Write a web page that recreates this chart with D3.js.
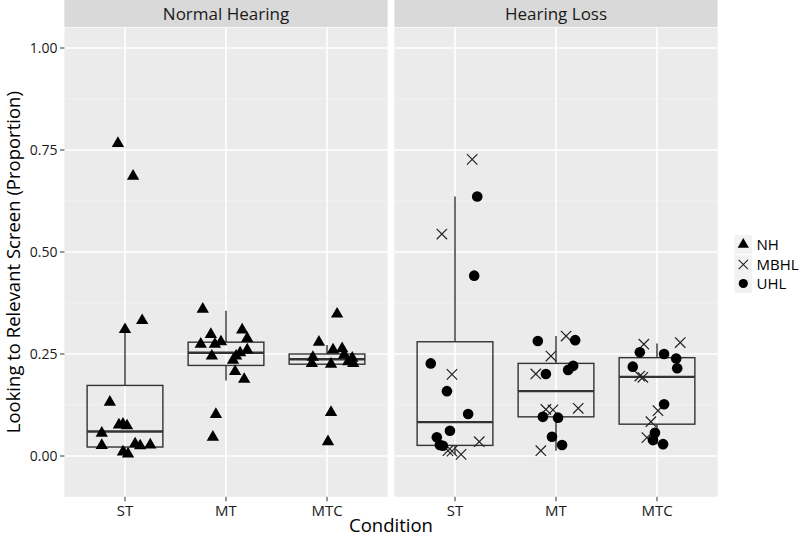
<!DOCTYPE html>
<html><head><meta charset="utf-8">
<script src="https://cdn.jsdelivr.net/npm/d3@7"></script>
<style>body{margin:0;background:#fff}svg{display:block}text{font-family:"Open Sans","Noto Sans",sans-serif}</style>
</head><body>
<svg id="chart" width="800" height="538"></svg>
<script>
// ---------- data ----------
const categories = ["ST", "MT", "MTC"];
const panels = ["Normal Hearing", "Hearing Loss"];
const yTicks = [0, 0.25, 0.5, 0.75, 1.0];
const yTickLabels = ["0.00", "0.25", "0.50", "0.75", "1.00"];
const yMinor = [0.125, 0.375, 0.625, 0.875];
const legendLabels = ["NH", "MBHL", "UHL"];

// points: [value, horizontal jitter (in category units)]
const nhST = [[0.766,-0.07],[0.686,0.08],[0.332,0.17],[0.31,0.0],[0.132,-0.15],[0.076,-0.06],[0.078,-0.02],[0.074,0.02],[0.056,-0.23],[0.026,-0.23],[0.01,-0.02],[0.005,0.03],[0.03,0.10],[0.025,0.15],[0.027,0.25]];
const nhMT = [[0.36,-0.23],[0.298,-0.15],[0.274,-0.25],[0.274,-0.11],[0.28,-0.05],[0.245,-0.14],[0.309,0.16],[0.288,0.21],[0.26,0.21],[0.253,0.14],[0.235,0.07],[0.207,0.09],[0.188,0.18],[0.102,-0.10],[0.046,-0.13],[0.245,0.10]];
const nhMTC = [[0.348,0.10],[0.279,-0.08],[0.26,0.06],[0.263,0.15],[0.242,-0.14],[0.227,-0.15],[0.225,0.04],[0.248,0.17],[0.231,0.21],[0.24,0.25],[0.227,0.26],[0.107,0.04],[0.035,0.01]];
const mbhlST = [[0.727,0.17],[0.544,-0.13],[0.2,-0.03],[0.035,0.24],[0.013,-0.07],[0.012,-0.03],[0.004,0.06]];
const uhlST = [[0.636,0.22],[0.442,0.19],[0.227,-0.24],[0.159,-0.08],[0.103,0.13],[0.062,-0.05],[0.046,-0.18],[0.027,-0.15],[0.025,-0.12]];
const mbhlMT = [[0.294,0.10],[0.245,-0.05],[0.201,-0.20],[0.114,-0.10],[0.113,-0.03],[0.117,0.22],[0.013,-0.15]];
const uhlMT = [[0.282,-0.18],[0.284,0.19],[0.221,0.17],[0.211,0.12],[0.201,-0.10],[0.096,-0.13],[0.094,0.02],[0.047,-0.04],[0.027,0.06]];
const mbhlMTC = [[0.274,-0.13],[0.278,0.23],[0.196,-0.17],[0.193,-0.14],[0.111,0.01],[0.084,-0.06],[0.045,-0.10]];
const uhlMTC = [[0.254,-0.17],[0.25,0.07],[0.239,0.19],[0.219,-0.24],[0.215,0.20],[0.127,0.07],[0.057,-0.02],[0.039,-0.04],[0.029,0.06]];

// box stats: [lower whisker, q1, median, q3, upper whisker] per category
const nhBoxes = [[0.005,0.022,0.06,0.173,0.31],[0.185,0.222,0.253,0.279,0.356],[0.222,0.225,0.237,0.25,0.272]];
const hlBoxes = [[0.004,0.026,0.083,0.28,0.636],[0.013,0.096,0.159,0.227,0.294],[0.029,0.078,0.194,0.241,0.276]];

// ---------- layout ----------
const svg = d3.select("#chart");
const panelTop = 27.6, panelBottom = 496.8;
const panelX = [[64.4, 387.6], [394.4, 717.6]];
const y = d3.scaleLinear().domain([-0.1, 1.05]).range([panelBottom, panelTop]);
const bg = "#ebebeb";
const ink = "#333333";

const triPath = d3.symbol(d3.symbolTriangle, 66)();
function cross(g, s, sw) {
  g.append("path").attr("d", `M${-s},${-s}L${s},${s}M${-s},${s}L${s},${-s}`)
    .attr("stroke", "#222").attr("stroke-width", sw).attr("fill", "none");
}

const panelData = [
  {boxes: nhBoxes, series: [{pts: [nhST, nhMT, nhMTC], shape: "tri"}]},
  {boxes: hlBoxes, series: [{pts: [mbhlST, mbhlMT, mbhlMTC], shape: "x"}, {pts: [uhlST, uhlMT, uhlMTC], shape: "dot"}]}
];

panels.forEach((title, pi) => {
  const [x0, x1] = panelX[pi];
  const x = d3.scalePoint().domain(categories).range([x0, x1]).padding(0.6);
  const step = x.step();
  const g = svg.append("g");
  // strip
  g.append("rect").attr("x", x0).attr("y", 0).attr("width", x1 - x0).attr("height", panelTop - 0.6).attr("fill", "#d9d9d9");
  g.append("text").attr("x", (x0 + x1) / 2).attr("y", 20).attr("text-anchor", "middle")
    .attr("font-size", 17).attr("fill", "#1a1a1a").text(title);
  // background
  g.append("rect").attr("x", x0).attr("y", panelTop).attr("width", x1 - x0).attr("height", panelBottom - panelTop).attr("fill", bg);
  // minor grid
  g.selectAll(".minor").data(yMinor).enter().append("line")
    .attr("x1", x0).attr("x2", x1).attr("y1", d => y(d)).attr("y2", d => y(d))
    .attr("stroke", "#f4f4f4").attr("stroke-width", 0.8);
  // major grid
  g.selectAll(".hmajor").data(yTicks).enter().append("line")
    .attr("x1", x0).attr("x2", x1).attr("y1", d => y(d)).attr("y2", d => y(d))
    .attr("stroke", "#ffffff").attr("stroke-width", 1.6);
  g.selectAll(".vmajor").data(categories).enter().append("line")
    .attr("x1", d => x(d)).attr("x2", d => x(d)).attr("y1", panelTop).attr("y2", panelBottom)
    .attr("stroke", "#ffffff").attr("stroke-width", 1.6);

  // boxplots
  const bw = step * 0.75;
  panelData[pi].boxes.forEach((b, ci) => {
    const cx = x(categories[ci]);
    const bg2 = g.append("g").attr("stroke", ink).attr("fill", "none");
    bg2.append("line").attr("x1", cx).attr("x2", cx).attr("y1", y(b[3])).attr("y2", y(b[4])).attr("stroke-width", 1.4);
    bg2.append("line").attr("x1", cx).attr("x2", cx).attr("y1", y(b[1])).attr("y2", y(b[0])).attr("stroke-width", 1.4);
    bg2.append("rect").attr("x", cx - bw / 2).attr("y", y(b[3])).attr("width", bw).attr("height", y(b[1]) - y(b[3])).attr("stroke-width", 1.4);
    bg2.append("line").attr("x1", cx - bw / 2).attr("x2", cx + bw / 2).attr("y1", y(b[2])).attr("y2", y(b[2])).attr("stroke-width", 2.4);
  });

  // points
  panelData[pi].series.forEach(s => {
    s.pts.forEach((arr, ci) => {
      arr.forEach(p => {
        const px = x(categories[ci]) + p[1] * step, py = y(p[0]);
        const m = g.append("g").attr("transform", `translate(${px},${py})`);
        if (s.shape === "tri") m.append("path").attr("d", triPath).attr("fill", "#000");
        else if (s.shape === "dot") m.append("circle").attr("r", 5.3).attr("fill", "#000");
        else cross(m, 5.2, 1.2);
      });
    });
  });

  // x axis
  const xa = g.append("g");
  categories.forEach(c => {
    xa.append("line").attr("x1", x(c)).attr("x2", x(c)).attr("y1", panelBottom).attr("y2", panelBottom + 4.5).attr("stroke", ink).attr("stroke-width", 1);
    xa.append("text").attr("x", x(c)).attr("y", 516).attr("text-anchor", "middle").attr("font-size", 15).attr("fill", "#1a1a1a").text(c);
  });
});

// y axis
const ya = svg.append("g");
yTicks.forEach((t, i) => {
  ya.append("line").attr("x1", 60).attr("x2", panelX[0][0]).attr("y1", y(t)).attr("y2", y(t)).attr("stroke", ink).attr("stroke-width", 1);
  ya.append("text").attr("x", 57.5).attr("y", y(t) + 5).attr("text-anchor", "end").attr("font-size", 14).attr("fill", "#1a1a1a").text(yTickLabels[i]);
});

// titles
svg.append("text").attr("x", (panelX[0][0] + panelX[1][1]) / 2).attr("y", 532).attr("text-anchor", "middle")
  .attr("font-size", 18.5).attr("fill", "#000").text("Condition");
svg.append("text").attr("transform", `translate(20,${(panelTop + panelBottom) / 2}) rotate(-90)`).attr("text-anchor", "middle")
  .attr("font-size", 18.5).attr("fill", "#000").text("Looking to Relevant Screen (Proportion)");

// legend
const lg = svg.append("g");
const legendY = [244.5, 264.5, 283.5];
legendLabels.forEach((lab, i) => {
  const cy = legendY[i];
  lg.append("rect").attr("x", 734.5).attr("y", cy - 9.5).attr("width", 17.5).attr("height", 19).attr("fill", "#f2f2f2");
  const m = lg.append("g").attr("transform", `translate(743.3,${cy})`);
  if (i === 0) m.append("path").attr("d", d3.symbol(d3.symbolTriangle, 55)()).attr("fill", "#000");
  else if (i === 1) cross(m, 4.6, 1.1);
  else m.append("circle").attr("r", 4.6).attr("fill", "#000");
  lg.append("text").attr("x", 756.5).attr("y", cy + 5.5).attr("font-size", 15).attr("fill", "#000").text(lab);
});
</script>
</body></html>
